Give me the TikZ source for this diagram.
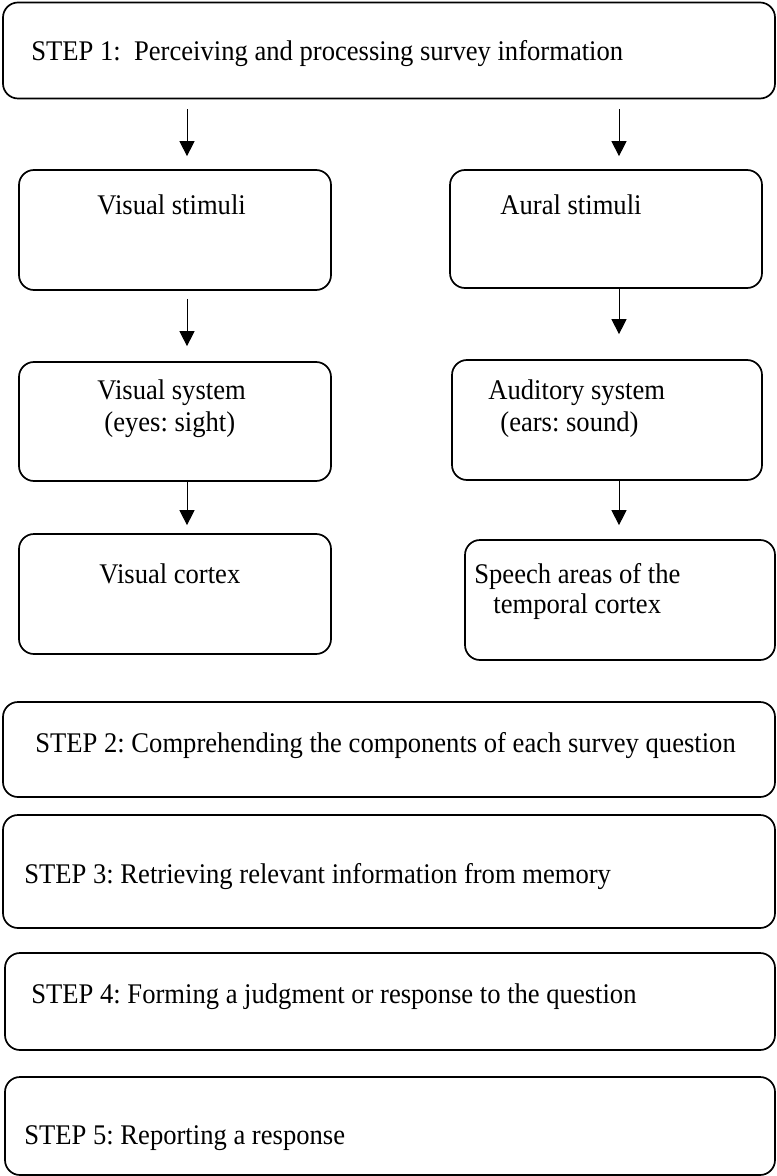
\documentclass[tikz,border=0pt]{standalone}
\usepackage{fontspec}
\usepackage{graphicx}
\setmainfont{Liberation Serif}
\frenchspacing
\usetikzlibrary{arrows.meta}
\newcommand{\stx}[1]{\scalebox{1}[1.07]{#1}}
\begin{document}
\begin{tikzpicture}[x=0.5pt,y=-0.5pt,
  box/.style={draw=black,line width=0.85pt,rounded corners=7.5pt,inner sep=0pt,rectangle},
  lbl/.style={anchor=base west,inner sep=0pt,font=\fontsize{13.3}{16}\selectfont},
  arr/.style={line width=0.5pt,-{Triangle[length=7.5pt,width=7.5pt]}}]
\useasboundingbox (0,0) rectangle (776,1176);
% boxes
\node[box,minimum width=386pt,minimum height=48pt] (s1) at (389,50.5) {};
\node[box,minimum width=156pt,minimum height=60pt] (vs) at (175,230) {};
\node[box,minimum width=156pt,minimum height=59pt] (as) at (606,229) {};
\node[box,minimum width=156pt,minimum height=59.5pt] (vsys) at (175,421.5) {};
\node[box,minimum width=155pt,minimum height=60pt] (asys) at (607,420) {};
\node[box,minimum width=156pt,minimum height=60pt] (vc) at (175,594) {};
\node[box,minimum width=155pt,minimum height=60pt] (sp) at (620,600) {};
\node[box,minimum width=386pt,minimum height=47.5pt] (s2) at (389,749.5) {};
\node[box,minimum width=386pt,minimum height=56.5pt] (s3) at (389,871.5) {};
\node[box,minimum width=385pt,minimum height=48.5pt] (s4) at (390,1001.5) {};
\node[box,minimum width=385pt,minimum height=49pt] (s5) at (390,1126) {};
% texts
\node[lbl] (t1) at (31,61) {\stx{STEP 1:\ \ Perceiving and processing survey information}};
\node[lbl] (t2) at (97,215) {\stx{Visual stimuli}};
\node[lbl] (t3) at (500,215) {\stx{Aural stimuli}};
\node[lbl] (t4) at (97,399) {\stx{Visual system}};
\node[lbl] (t5) at (104,431) {\stx{(eyes: sight)}};
\node[lbl] (t6) at (488,399) {\stx{Auditory system}};
\node[lbl] (t7) at (500,431) {\stx{(ears: sound)}};
\node[lbl] (t8) at (99,583) {\stx{Visual cortex}};
\node[lbl] (t9) at (474,583) {\stx{Speech areas of the}};
\node[lbl] (t10) at (493,613) {\stx{temporal cortex}};
\node[lbl] (t11) at (35,752) {\stx{STEP 2: Comprehending the components of each survey question}};
\node[lbl] (t12) at (24,883) {\stx{STEP 3: Retrieving relevant information from memory}};
\node[lbl] (t13) at (31,1003) {\stx{STEP 4: Forming a judgment or response to the question}};
\node[lbl] (t14) at (24,1144) {\stx{STEP 5: Reporting a response}};
% arrows
\draw[arr,shorten <=5pt,shorten >=6.5pt] (s1.south -| 187,0) -- (vs.north -| 187,0);
\draw[arr,shorten <=5pt,shorten >=6.5pt] (s1.south -| 619,0) -- (as.north -| 619,0);
\draw[arr,shorten <=4pt,shorten >=7.5pt] (vs.south -| 187,0) -- (vsys.north -| 187,0);
\draw[arr,shorten >=12.5pt] (as.south -| 619,0) -- (asys.north -| 619,0);
\draw[arr,shorten >=4pt] (vsys.south -| 187,0) -- (vc.north -| 187,0);
\draw[arr,shorten >=7pt] (asys.south -| 619,0) -- (sp.north -| 619,0);
\end{tikzpicture}
\end{document}
